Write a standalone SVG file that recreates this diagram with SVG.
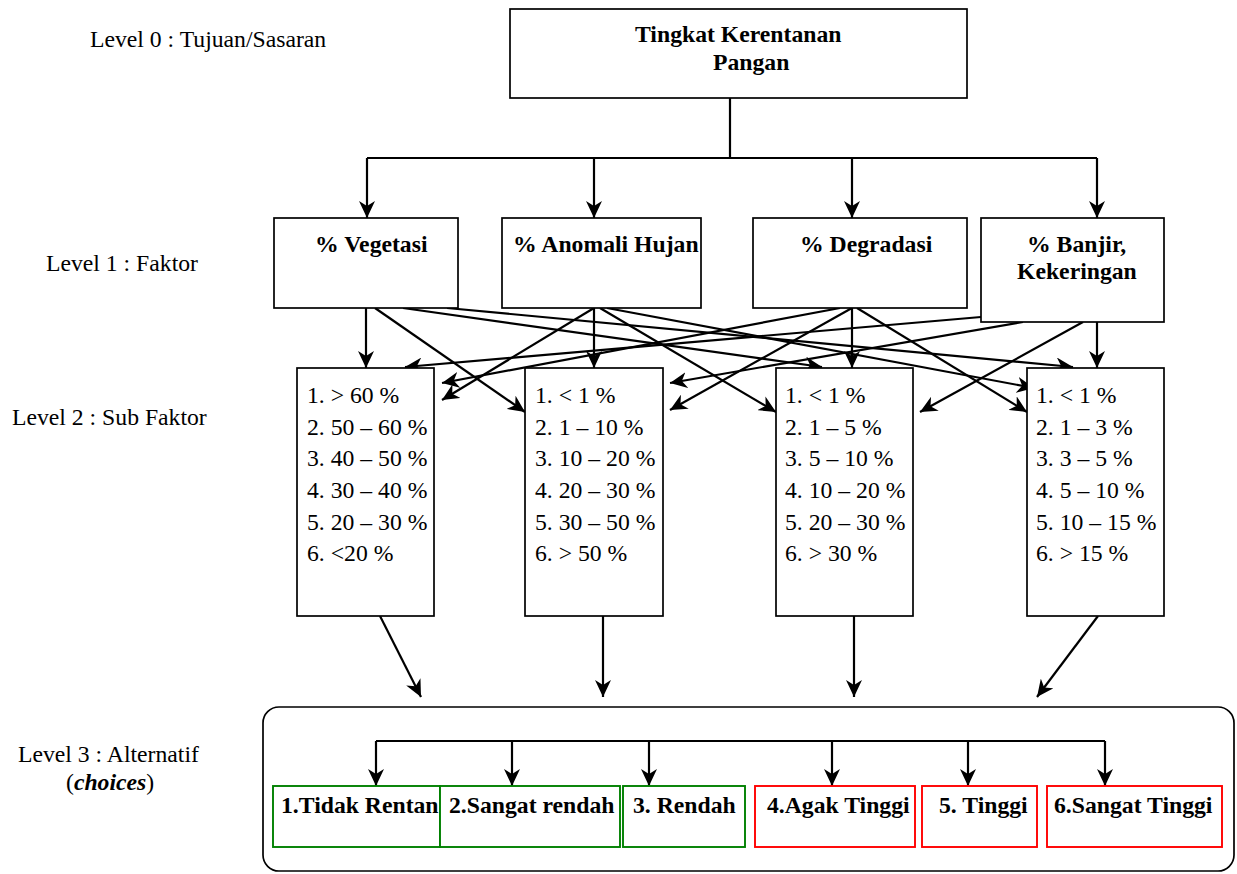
<svg xmlns="http://www.w3.org/2000/svg" width="1237" height="874" viewBox="0 0 1237 874">
<style>
  text { font-family: "Liberation Serif", "Times New Roman", serif; font-size: 23.7px; fill: #000; }
  .b { font-weight: bold; }
  .box { fill: #fff; stroke: #000; stroke-width: 1.7; }
  .g { fill: #fff; stroke: #008000; stroke-width: 1.9; }
  .r { fill: #fff; stroke: #ff0000; stroke-width: 1.9; }
  .ln { fill: none; stroke: #000; stroke-width: 2.2; }
  .ar { fill: none; stroke: #000; stroke-width: 2.2; marker-end: url(#ah); }
</style>
<defs>
  <marker id="ah" markerUnits="userSpaceOnUse" markerWidth="18" markerHeight="16" viewBox="0 0 18 16" refX="17" refY="8" orient="auto">
    <path d="M0,0 L17,8 L0,16 L5,8 z" fill="#000"/>
  </marker>
</defs>

<g id="labels">
  <text x="90" y="47">Level 0 : Tujuan/Sasaran</text>
  <text x="46" y="271">Level 1 : Faktor</text>
  <text x="12" y="425">Level 2 : Sub Faktor</text>
  <text x="18" y="762">Level 3 : Alternatif</text>
  <text x="66" y="790">(<tspan class="b" font-style="italic">choices</tspan>)</text>
</g>

<g id="container">
  <rect x="263" y="707" width="971" height="164" rx="16" ry="16" fill="none" stroke="#000" stroke-width="1.7"/>
</g>

<g id="connectors">
  <path class="ln" d="M730,98 V158 M367,158 H1097"/>
  <path class="ar" d="M367,158 V218"/>
  <path class="ar" d="M594,158 V218"/>
  <path class="ar" d="M852,158 V218"/>
  <path class="ar" d="M1097,158 V218"/>
  <path class="ar" d="M366,308 V368"/>
  <path class="ar" d="M375,308 L525,412"/>
  <path class="ar" d="M403,308 L822,367"/>
  <path class="ar" d="M447,308 L1073,367"/>
  <path class="ar" d="M594,308 V368"/>
  <path class="ar" d="M594,308 L442,400"/>
  <path class="ar" d="M600,308 L776,412"/>
  <path class="ar" d="M607,308 L1034,388"/>
  <path class="ar" d="M852,308 V368"/>
  <path class="ar" d="M840,308 L442,383"/>
  <path class="ar" d="M852,308 L670,410"/>
  <path class="ar" d="M857,308 L1027,412"/>
  <path class="ar" d="M1097,322 V368"/>
  <path class="ar" d="M981,317 L405,367"/>
  <path class="ar" d="M1023,322 L670,383"/>
  <path class="ar" d="M1083,322 L920,412"/>
  <path class="ar" d="M380,616 L421,697"/>
  <path class="ar" d="M603,616 V697"/>
  <path class="ar" d="M854,616 V697"/>
  <path class="ar" d="M1098,616 L1037,697"/>
  <path class="ln" d="M376,741 H1105"/>
  <path class="ar" d="M376,741 V786"/>
  <path class="ar" d="M512,741 V786"/>
  <path class="ar" d="M649,741 V786"/>
  <path class="ar" d="M832,741 V786"/>
  <path class="ar" d="M968,741 V786"/>
  <path class="ar" d="M1105,741 V786"/>
</g>

<g id="goal">
  <rect class="box" x="510" y="9" width="457" height="89"/>
  <text class="b" x="635" y="42">Tingkat Kerentanan</text>
  <text class="b" x="713" y="70">Pangan</text>
</g>

<g id="f-vegetasi">
  <rect class="box" x="274" y="218" width="184" height="90"/>
  <text class="b" x="315" y="252">% Vegetasi</text>
</g>
<g id="f-anomali">
  <rect class="box" x="502" y="218" width="199" height="90"/>
  <text class="b" x="513" y="252">% Anomali Hujan</text>
</g>
<g id="f-degradasi">
  <rect class="box" x="753" y="218" width="214" height="90"/>
  <text class="b" x="800" y="252">% Degradasi</text>
</g>
<g id="f-banjir">
  <rect class="box" x="981" y="218" width="183" height="104"/>
  <text class="b" x="1027" y="252">% Banjir,</text>
  <text class="b" x="1017" y="279">Kekeringan</text>
</g>

<g id="s-vegetasi">
  <rect class="box" x="297" y="368" width="137" height="248"/>
  <text x="307" y="403">1. &gt; 60 %</text>
  <text x="307" y="435">2. 50 – 60 %</text>
  <text x="307" y="466">3. 40 – 50 %</text>
  <text x="307" y="498">4. 30 – 40 %</text>
  <text x="307" y="530">5. 20 – 30 %</text>
  <text x="307" y="561">6. &lt;20 %</text>
</g>
<g id="s-anomali">
  <rect class="box" x="525" y="368" width="138" height="248"/>
  <text x="535" y="403">1. &lt; 1 %</text>
  <text x="535" y="435">2. 1 – 10 %</text>
  <text x="535" y="466">3. 10 – 20 %</text>
  <text x="535" y="498">4. 20 – 30 %</text>
  <text x="535" y="530">5. 30 – 50 %</text>
  <text x="535" y="561">6. &gt; 50 %</text>
</g>
<g id="s-degradasi">
  <rect class="box" x="776" y="368" width="137" height="248"/>
  <text x="785" y="403">1. &lt; 1 %</text>
  <text x="785" y="435">2. 1 – 5 %</text>
  <text x="785" y="466">3. 5 – 10 %</text>
  <text x="785" y="498">4. 10 – 20 %</text>
  <text x="785" y="530">5. 20 – 30 %</text>
  <text x="785" y="561">6. &gt; 30 %</text>
</g>
<g id="s-banjir">
  <rect class="box" x="1027" y="368" width="137" height="248"/>
  <text x="1036" y="403">1. &lt; 1 %</text>
  <text x="1036" y="435">2. 1 – 3 %</text>
  <text x="1036" y="466">3. 3 – 5 %</text>
  <text x="1036" y="498">4. 5 – 10 %</text>
  <text x="1036" y="530">5. 10 – 15 %</text>
  <text x="1036" y="561">6. &gt; 15 %</text>
</g>

<g id="a1">
  <rect class="g" x="273" y="786" width="167" height="61"/>
  <text class="b" x="281" y="813">1.Tidak Rentan</text>
</g>
<g id="a2">
  <rect class="g" x="440" y="786" width="180" height="61"/>
  <text class="b" x="449" y="813">2.Sangat rendah</text>
</g>
<g id="a3">
  <rect class="g" x="623" y="786" width="122" height="61"/>
  <text class="b" x="633" y="813">3. Rendah</text>
</g>
<g id="a4">
  <rect class="r" x="755" y="786" width="160" height="61"/>
  <text class="b" x="767" y="813">4.Agak Tinggi</text>
</g>
<g id="a5">
  <rect class="r" x="922" y="786" width="115" height="61"/>
  <text class="b" x="939" y="813">5. Tinggi</text>
</g>
<g id="a6">
  <rect class="r" x="1047" y="786" width="175" height="61"/>
  <text class="b" x="1054" y="813">6.Sangat Tinggi</text>
</g>
</svg>
